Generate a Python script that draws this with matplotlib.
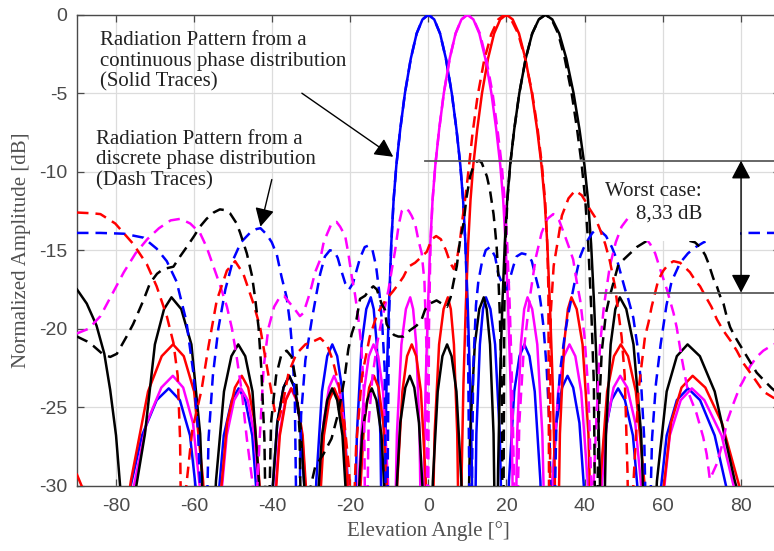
import matplotlib
matplotlib.use("Agg")
import matplotlib.pyplot as plt
from matplotlib.patches import Rectangle, FancyArrowPatch

plt.rcParams["axes.unicode_minus"] = False

# ---------------------------------------------------------------------------
# Radiation patterns: (elevation angle [deg], normalized amplitude [dB])
# Nulls are stored below the plotted range so the lobes dive off the axis.
# ---------------------------------------------------------------------------

# Continuous phase distribution (solid traces), beam steered to 0/10/20/30 deg
blue_solid = [
    (-90, -40),
    (-78.5, -32.5), (-73.35, -26.8), (-69.6, -24.55), (-66.5, -23.8), (-63.65, -24.55), (-61.05, -26.8), (-58.55, -32.5), (-56.4, -40),
    (-54.4, -32.5), (-52.4, -26.8), (-50.35, -24.55), (-48.6, -23.8), (-46.9, -24.55), (-45.1, -26.8), (-43.4, -32.5), (-41.85, -40),
    (-40.3, -31.7), (-38.7, -26.0), (-37.1, -23.75), (-35.65, -23.0), (-34.25, -23.75), (-32.8, -26.0), (-31.35, -31.7), (-30.0, -40),
    (-28.7, -29.7), (-27.25, -24.0), (-25.9, -21.75), (-24.6, -21.0), (-23.35, -21.75), (-22.0, -24.0), (-20.65, -29.7), (-19.45, -40),
    (-18.3, -26.7), (-17.1, -21.0), (-15.9, -18.75), (-14.75, -18.0), (-14.0, -18.75), (-13.2, -21.0), (-12.3, -26.7), (-11.55, -40),
    (-11.15, -29), (-10.7, -23.5), (-10.1, -18.6), (-9.5, -14.6), (-8.9, -11.8), (-8.2, -9.6), (-7.2, -7.3), (-6.0, -5.0),
    (-4.5, -2.8), (-3.0, -1.2), (-1.5, -0.3), (0, 0), (1.5, -0.3), (3.0, -1.2), (4.5, -2.8), (6.0, -5.0), (7.2, -7.3),
    (8.2, -9.6), (8.9, -11.8), (9.5, -14.6), (10.1, -18.6), (10.7, -23.5), (11.15, -29),
    (11.55, -40), (12.3, -26.7), (13.2, -21.0), (14.0, -18.75), (14.75, -18.0), (15.9, -18.75), (17.1, -21.0), (18.3, -26.7),
    (19.45, -40), (20.65, -29.7), (22.0, -24.0), (23.35, -21.75), (24.6, -21.0), (25.9, -21.75), (27.25, -24.0), (28.7, -29.7),
    (30.0, -40), (31.35, -31.7), (32.8, -26.0), (34.25, -23.75), (35.65, -23.0), (37.1, -23.75), (38.7, -26.0), (40.3, -31.7),
    (41.85, -40), (43.4, -32.5), (45.1, -26.8), (46.9, -24.55), (48.6, -23.8), (50.35, -24.55), (52.4, -26.8), (54.4, -32.5),
    (56.4, -40), (58.55, -32.5), (61.05, -26.8), (63.65, -24.55), (66.5, -23.8), (69.6, -24.55), (73.35, -26.8), (78.5, -32.5),
    (90, -40),
]

magenta_solid = [
    (-90, -36), (-83.4, -40),
    (-76.8, -31.7), (-72.15, -26.0), (-68.4, -23.75), (-65.45, -23.0), (-62.8, -23.75), (-60.3, -26.0), (-57.85, -31.7), (-55.7, -40),
    (-53.75, -32.5), (-51.65, -26.8), (-49.75, -24.55), (-48.0, -23.8), (-46.25, -24.55), (-44.55, -26.8), (-42.8, -32.5), (-41.25, -40),
    (-39.75, -32.5), (-38.2, -26.8), (-36.6, -24.55), (-35.2, -23.8), (-33.8, -24.55), (-32.3, -26.8), (-30.9, -32.5), (-29.55, -40),
    (-28.25, -31.7), (-26.85, -26.0), (-25.45, -23.75), (-24.15, -23.0), (-22.9, -23.75), (-21.6, -26.0), (-20.25, -31.7), (-19.05, -40),
    (-17.85, -29.7), (-16.5, -24.0), (-15.25, -21.75), (-14.05, -21.0), (-12.85, -21.75), (-11.6, -24.0), (-10.35, -29.7), (-9.15, -40),
    (-8.05, -26.7), (-6.9, -21.0), (-5.75, -18.75), (-4.65, -18.0), (-3.9, -18.75), (-3.1, -21.0), (-2.25, -26.7), (-1.52, -40),
    (-1.13, -29), (-0.69, -23.5), (-0.10, -18.6), (0.49, -14.6), (1.08, -11.8), (1.78, -9.6), (2.77, -7.3), (3.96, -5.0),
    (5.46, -2.8), (6.97, -1.2), (8.48, -0.3), (10, 0), (11.53, -0.3), (13.06, -1.2), (14.6, -2.8), (16.15, -5.0),
    (17.39, -7.3), (18.43, -9.6), (19.17, -11.8), (19.79, -14.6), (20.43, -18.6), (21.06, -23.5), (21.53, -29),
    (21.95, -40), (22.75, -26.7), (23.7, -21.0), (24.55, -18.75), (25.4, -18.0), (26.6, -18.75), (27.9, -21.0), (29.2, -26.7),
    (30.45, -40), (31.8, -29.7), (33.25, -24.0), (34.75, -21.75), (36.15, -21.0), (37.65, -21.75), (39.15, -24.0), (40.8, -29.7),
    (42.35, -40), (43.9, -31.7), (45.7, -26.0), (47.45, -23.75), (49.15, -23.0), (50.95, -23.75), (53.0, -26.0), (55.15, -31.7),
    (57.2, -40), (59.4, -32.5), (61.85, -26.8), (64.65, -24.55), (67.5, -23.8), (70.7, -24.55), (75.1, -26.8), (80.6, -32.5),
    (90, -38),
]

red_solid = [
    (-90, -29.3), (-88.5, -30.2), (-86.5, -33), (-82.3, -40),
    (-76.2, -29.7), (-71.8, -24.0), (-68.3, -21.75), (-65.4, -21.0), (-62.65, -21.75), (-60.0, -24.0), (-57.7, -29.7), (-55.6, -40),
    (-53.6, -31.7), (-51.55, -26.0), (-49.55, -23.75), (-47.8, -23.0), (-46.15, -23.75), (-44.45, -26.0), (-42.7, -31.7), (-41.15, -40),
    (-39.65, -32.5), (-38.05, -26.8), (-36.5, -24.55), (-35.1, -23.8), (-33.65, -24.55), (-32.2, -26.8), (-30.75, -32.5), (-29.4, -40),
    (-28.1, -32.5), (-26.75, -26.8), (-25.35, -24.55), (-24.1, -23.8), (-22.85, -24.55), (-21.45, -26.8), (-20.2, -32.5), (-18.95, -40),
    (-17.75, -31.7), (-16.45, -26.0), (-15.15, -23.75), (-13.95, -23.0), (-12.75, -23.75), (-11.55, -26.0), (-10.25, -31.7), (-9.1, -40),
    (-7.95, -29.7), (-6.65, -24.0), (-5.45, -21.75), (-4.25, -21.0), (-3.1, -21.75), (-1.9, -24.0), (-0.65, -29.7), (0.5, -40),
    (1.6, -26.7), (2.75, -21.0), (3.9, -18.75), (5.0, -18.0), (5.75, -18.75), (6.55, -21.0), (7.4, -26.7), (8.15, -40),
    (8.55, -29), (8.99, -23.5), (9.59, -18.6), (10.2, -14.6), (10.8, -11.8), (11.5, -9.6), (12.52, -7.3), (13.74, -5.0),
    (15.28, -2.8), (16.84, -1.2), (18.41, -0.3), (20, 0), (21.6, -0.3), (23.22, -1.2), (24.86, -2.8), (26.52, -5.0),
    (27.86, -7.3), (28.99, -9.6), (29.78, -11.8), (30.47, -14.6), (31.16, -18.6), (31.85, -23.5), (32.37, -29),
    (32.83, -40), (33.7, -26.7), (34.75, -21.0), (35.75, -18.75), (36.65, -18.0), (38.0, -18.75), (39.5, -21.0), (41.0, -26.7),
    (42.45, -40), (44.05, -29.7), (45.8, -24.0), (47.55, -21.75), (49.3, -21.0), (51.15, -21.75), (53.15, -24.0), (55.3, -29.7),
    (57.35, -40), (59.55, -31.7), (62.15, -26.0), (64.85, -23.75), (67.7, -23.0), (70.95, -23.75), (75.2, -26.0), (81.5, -31.7),
    (90, -36),
]

black_solid = [
    (-90, -17.5), (-87.5, -18.4), (-85, -19.8), (-83, -21.6), (-81.5, -23.9), (-80, -26.8), (-78.8, -30.5), (-77.2, -40),
    (-74.8, -30), (-72.6, -26.7), (-70.05, -21.0), (-67.7, -18.75), (-65.8, -18.0), (-63.3, -18.75), (-60.7, -21.0), (-58.45, -26.7), (-56.4, -40),
    (-54.4, -29.7), (-52.35, -24.0), (-50.45, -21.75), (-48.7, -21.0), (-46.9, -21.75), (-45.05, -24.0), (-43.4, -29.7), (-41.85, -40),
    (-40.3, -31.7), (-38.7, -26.0), (-37.1, -23.75), (-35.65, -23.0), (-34.25, -23.75), (-32.8, -26.0), (-31.35, -31.7), (-30.0, -40),
    (-28.7, -32.5), (-27.25, -26.8), (-25.9, -24.55), (-24.65, -23.8), (-23.35, -24.55), (-22.0, -26.8), (-20.65, -32.5), (-19.45, -40),
    (-18.25, -32.5), (-17.0, -26.8), (-15.65, -24.55), (-14.5, -23.8), (-13.3, -24.55), (-12.0, -26.8), (-10.8, -32.5), (-9.6, -40),
    (-8.45, -31.7), (-7.2, -26.0), (-5.9, -23.75), (-4.75, -23.0), (-3.6, -23.75), (-2.4, -26.0), (-1.15, -31.7), (0.0, -40),
    (1.15, -29.7), (2.4, -24.0), (3.6, -21.75), (4.8, -21.0), (5.95, -21.75), (7.2, -24.0), (8.45, -29.7), (9.6, -40),
    (10.7, -26.7), (11.9, -21.0), (13.05, -18.75), (14.2, -18.0), (14.95, -18.75), (15.8, -21.0), (16.7, -26.7), (17.45, -40),
    (17.86, -29), (18.32, -23.5), (18.94, -18.6), (19.57, -14.6), (20.2, -11.8), (20.94, -9.6), (22.0, -7.3), (23.3, -5.0),
    (24.93, -2.8), (26.6, -1.2), (28.29, -0.3), (30, 0), (31.75, -0.3), (33.53, -1.2), (35.35, -2.8), (37.2, -5.0),
    (38.71, -7.3), (39.99, -9.6), (40.9, -11.8), (41.69, -14.6), (42.49, -18.6), (43.29, -23.5), (43.91, -29),
    (44.45, -40), (45.5, -26.7), (46.7, -21.0), (47.9, -18.75), (49.05, -18.0), (50.7, -18.75), (52.55, -21.0), (54.5, -26.7),
    (56.4, -40), (58.55, -29.7), (61.05, -24.0), (63.65, -21.75), (66.4, -21.0), (69.55, -21.75), (73.35, -24.0), (78.5, -29.7),
    (90, -40),
]

# Discrete phase distribution (dashed traces)
blue_dash = [
    (-90, -13.9), (-84, -13.9), (-78, -13.95), (-73, -14.2), (-69.6, -14.9), (-67, -15.7), (-64.5, -17.0), (-62, -19.5),
    (-60.2, -22.8), (-59, -26.5), (-58, -33), (-57.3, -38), (-56.3, -27), (-55.2, -23), (-53.8, -20), (-52, -17.5),
    (-50, -15.6), (-48, -14.5), (-45.7, -13.9), (-44, -13.65), (-43, -13.6), (-41.4, -14.0), (-40.1, -14.5), (-38.8, -15.3),
    (-37.6, -16.7), (-36.3, -18.0), (-35.4, -19.7), (-34.8, -21.5), (-34.2, -24.5), (-33.5, -38), (-32.6, -25.5), (-31.5, -22),
    (-29.9, -19.5), (-28.6, -17.7), (-27.7, -16.5), (-26.5, -15.4), (-25.2, -15.0), (-24, -15.1), (-23.2, -15.5), (-22.3, -16.3),
    (-21.3, -17.1), (-20.3, -17.5), (-19.3, -17.1), (-18.4, -16.3), (-17.5, -15.5), (-16.3, -14.8), (-15.3, -14.7), (-14.3, -15.0),
    (-13.4, -16.0), (-12.5, -17.8), (-11.8, -19.8), (-11.2, -22.5), (-10.7, -38), (-10.1, -19.5), (-9.5, -14.6), (-8.9, -11.8),
    (-8.2, -9.6), (-7.2, -7.3), (-6.0, -5.0), (-4.5, -2.8), (-3.0, -1.2), (-1.5, -0.3), (0, 0), (1.5, -0.3), (3.0, -1.2),
    (4.5, -2.8), (6.0, -5.0), (7.2, -7.3), (8.2, -9.6), (8.9, -11.8), (9.5, -14.6), (10.1, -19.5), (10.8, -38),
    (11.5, -22.5), (12.2, -18.5), (12.8, -17.0), (13.7, -15.8),
    (14.7, -15.0), (15.8, -14.8), (17.1, -15.4), (17.9, -16.5), (19.2, -17.3), (20.1, -17.5), (20.9, -16.8), (21.8, -16.0),
    (22.6, -15.4), (23.9, -15.2), (25.6, -15.3), (26.5, -15.7), (27.3, -16.5), (28.2, -17.4), (28.8, -18.4), (29.5, -19.9),
    (30.3, -22.5), (31.0, -26), (31.8, -38), (32.8, -26), (33.7, -22.8), (35, -20.3), (35.9, -19.0), (37.1, -17.5),
    (38, -16.4), (38.9, -15.4), (39.7, -14.9), (41, -14.3), (42, -13.9), (43, -13.7), (44, -13.75), (45.5, -14.1),
    (47, -14.8), (48.3, -15.6), (49.5, -16.7), (50.4, -17.5), (51.2, -18.1), (52.5, -19.3), (53.5, -21), (54.5, -23.5),
    (55.3, -27), (56.2, -38), (57.3, -27), (58.3, -23.5), (59.5, -21), (61, -18.5), (62.3, -17.0), (64.5, -15.8),
    (66.5, -15.2), (68.5, -14.8), (70.5, -14.5), (74, -14.2), (78, -14.0), (81, -13.9), (85, -13.9), (90, -13.9),
]

magenta_dash = [
    (-90, -20.3), (-87, -20.0), (-84, -19.2), (-81, -17.8), (-78, -16.4), (-75, -15.2), (-72, -14.3), (-69, -13.6),
    (-66, -13.1), (-63.5, -13.0), (-61, -13.3), (-58.5, -13.9), (-56.8, -14.8), (-55.1, -16.0), (-53.4, -17.2), (-51.6, -18.6),
    (-50.3, -20.0), (-49.1, -21.8), (-47.8, -24.0), (-46.5, -27.0), (-45.2, -29.5), (-44.2, -32), (-43.2, -27), (-42.2, -22.5),
    (-41.0, -20.0), (-39.5, -18.6), (-38.0, -17.96), (-37.0, -17.9), (-35.4, -18.4), (-34.1, -18.8), (-32.9, -19.2), (-32.0, -19.0),
    (-30.7, -18.0), (-29.9, -17.3), (-29.0, -16.4), (-27.7, -15.6), (-26.9, -14.6), (-26.0, -14.0), (-24.8, -13.3), (-23.5, -13.2),
    (-22.6, -13.5), (-21.3, -14.1), (-20.5, -15.2), (-19.6, -16.7), (-18.8, -17.8), (-18.0, -19.2), (-17.2, -21.0), (-16.5, -24.0),
    (-16.0, -38), (-15.3, -26), (-14.3, -23), (-13.0, -20.8), (-12.0, -19.5), (-11.1, -18.6), (-10.2, -17.5), (-9.4, -16.3),
    (-8.5, -15.0), (-7.6, -13.4), (-6.8, -12.5), (-6.0, -12.3), (-5.0, -12.5), (-4.3, -12.8), (-3.4, -13.3), (-2.6, -14.3),
    (-1.7, -15.2), (-1.0, -17.0), (-0.5, -21), (-0.15, -38), (0.15, -20), (0.55, -14.6), (1.08, -11.8), (1.78, -9.6),
    (2.77, -7.3), (3.96, -5.0), (5.46, -2.8), (6.97, -1.2), (8.48, -0.3), (10, 0), (11.6, -0.3), (13.2, -1.2),
    (14.8, -2.8), (16.45, -5.0), (17.7, -7.3), (18.8, -9.6), (19.55, -11.8), (20.2, -14.6), (20.85, -18.6), (21.45, -23.5),
    (21.9, -29), (22.3, -38), (23.3, -26), (24.4, -21.5),
    (26.0, -18.0), (27.5, -15.5), (29.0, -13.9), (30.5, -13.0), (32.0, -12.7), (33.5, -13.1), (35.0, -14.1), (36.3, -15.0),
    (37.1, -15.6), (38.0, -17.0), (38.9, -18.2), (40.0, -20.5), (41.0, -24.0), (42.0, -32), (43.0, -26), (44.0, -21.0),
    (45.0, -18.5), (46.5, -16.0), (48.0, -14.5), (49.5, -13.5), (51.0, -13.0), (52.5, -13.1), (54.0, -13.6), (55.5, -14.2),
    (56.8, -14.6), (58.1, -15.2), (59.5, -16.3), (61.1, -17.5), (62.0, -18.3), (62.8, -19.0), (63.6, -19.9), (65.0, -22.0),
    (66.5, -24.0), (68.7, -25.4), (70.4, -26.9), (71.3, -28.0), (72.1, -29.6), (73.9, -28.6), (75.6, -27.1), (76.4, -26.0),
    (78.1, -24.8), (79.8, -23.7), (80.7, -23.3), (82.4, -22.4), (84.1, -21.8), (85.8, -21.4), (88.4, -21.0), (90, -20.9),
]

red_dash = [
    (-90, -12.6), (-86, -12.65), (-84, -12.7), (-80.2, -13.3), (-75.6, -14.6), (-72.1, -15.9), (-69.6, -17.3), (-67, -19.2),
    (-65.3, -20.9), (-64.2, -23), (-63.6, -27), (-63.1, -38), (-62.0, -30), (-60.5, -26.5), (-58.1, -23.9), (-56.3, -21.1),
    (-54.2, -18.2), (-51.6, -16.3), (-49.5, -15.7), (-47.4, -16.5), (-44.8, -18.4), (-43.1, -19.9), (-41.8, -21.8), (-40.5, -23.6),
    (-39.3, -25.3), (-38.3, -25.8), (-37.3, -24.8), (-35.8, -22.8), (-33.8, -21.6), (-31.5, -21.0), (-29.4, -20.8), (-27.7, -20.6),
    (-26.0, -21.0), (-24.5, -22.0), (-23.0, -23.5), (-21.5, -26.0), (-20.3, -29.0), (-19.4, -34), (-18.5, -27.5), (-17.0, -23.0),
    (-15.0, -20.5), (-13.0, -19.0), (-11.0, -18.2), (-9.0, -17.6), (-7.5, -17.1), (-6.4, -16.7), (-5.1, -16.05), (-3.4, -15.8),
    (-2.1, -15.5), (-0.4, -15.1), (0.86, -14.3), (2.0, -14.1), (3.2, -14.3), (4.5, -15.0), (5.6, -15.8), (6.5, -16.2),
    (7.3, -15.6), (8.1, -14.4), (8.8, -12.9), (9.5, -11.6), (10.3, -9.9), (11.3, -7.6), (12.6, -5.2), (14.3, -2.9),
    (16.1, -1.25), (17.9, -0.3), (19.5, 0), (21.2, -0.3), (23.0, -1.2), (24.8, -2.8), (26.6, -5.0), (28.0, -7.3),
    (29.1, -9.6), (29.9, -11.8), (30.4, -14.2), (30.75, -17.5), (31.0, -38), (31.35, -19), (32.1, -16), (33.3, -14.2),
    (34.2, -12.8), (35.9, -11.7), (37.6, -11.2),
    (39.3, -11.5), (40.5, -12.0), (41.4, -12.4), (42.7, -12.9), (44, -13.7), (45.3, -14.6), (46.5, -15.7), (47.8, -17.3),
    (48.7, -19), (49.5, -20.5), (50.3, -23), (51, -29), (51.6, -38), (52.5, -30), (53.8, -24), (55.5, -20.5),
    (56.4, -19.6), (57.2, -18.6), (58.1, -17.7), (58.9, -16.9), (60.2, -16.3), (61.5, -15.9), (62.8, -15.7), (64.5, -15.8),
    (67, -16.4), (68.3, -16.9), (69.6, -17.3), (70.9, -17.9), (72.5, -18.6), (73.9, -19.4), (75.5, -20.1), (77.5, -20.8),
    (79, -21.4), (80.7, -22.2), (83.3, -23.1), (85.8, -24.0), (88.4, -24.4), (90, -24.5),
]

black_dash = [
    (-90, -20.5), (-87.5, -20.8), (-85.8, -21.1), (-83.5, -21.6), (-81.5, -21.8), (-79.8, -21.6), (-77.3, -20.5), (-75.6, -19.7),
    (-73, -18.2), (-71.3, -17.1), (-69.5, -16.5), (-67.9, -16.2), (-65.3, -16.05), (-63.6, -15.4), (-61.9, -14.8), (-60, -14.1),
    (-58.5, -13.5), (-56.8, -13.0), (-55, -12.6), (-53.4, -12.4), (-52, -12.45), (-50.8, -12.65), (-49.1, -13.3), (-48.2, -13.9),
    (-46.5, -15.2), (-45.2, -16.6), (-44.4, -18.0), (-43.5, -19.9), (-42.8, -22.5), (-42.0, -27), (-41.3, -38), (-40.3, -26),
    (-39.0, -23), (-37.6, -21.6), (-36.3, -21.4), (-35.0, -21.8), (-33.8, -23.5), (-33.0, -26.5), (-32.3, -38), (-31.0, -31),
    (-29.0, -28.8), (-26.9, -28.0), (-24.8, -27.0), (-23.0, -25.3), (-21.5, -23.2), (-20.5, -21.3), (-19.6, -20.3), (-18.4, -19.4),
    (-17.5, -18.1), (-16.2, -17.9), (-15.0, -17.5), (-14.1, -17.3), (-13.2, -17.5), (-12.0, -18.4), (-11.1, -18.8), (-10.7, -19.7),
    (-9.8, -20.1), (-8.8, -20.4), (-7.7, -20.5), (-6.4, -20.5), (-4.7, -20.1), (-3.0, -19.8), (-1.7, -19.4), (-0.85, -18.8),
    (0.4, -18.4), (2.1, -18.2), (3.4, -18.4), (4.8, -18.6), (5.7, -18.0), (6.4, -17.1), (7.3, -16.0), (8.1, -14.4),
    (9.0, -13.3), (9.8, -11.6), (10.7, -10.3), (11.6, -9.6), (12.4, -9.35), (13.1, -9.3), (13.7, -9.45), (15.0, -10.3),
    (15.8, -11.2), (16.7, -12.7), (17.1, -13.7), (17.5, -14.8), (17.9, -16.5), (18.3, -19), (18.8, -24), (19.15, -38),
    (19.45, -19), (19.75, -14.6), (20.25, -11.8), (20.94, -9.6), (22.0, -7.3), (23.3, -5.0), (24.93, -2.8), (26.6, -1.2),
    (28.29, -0.3), (30, 0), (31.6, -0.3), (33.25, -1.2), (34.95, -2.8), (36.7, -5.0), (38.1, -7.3), (39.3, -9.6),
    (40.2, -11.8), (40.95, -14.6), (41.7, -18.6), (42.4, -23.5), (42.9, -38),
    (43.6, -26), (44.4, -21.5), (45.5, -19.0), (46.5, -17.9), (48.7, -15.9), (50.0, -15.6), (52.1, -15.1), (53.4, -14.8),
    (56, -14.4), (60, -14.2), (64, -14.2), (68.3, -14.5), (69.6, -14.8), (70.9, -15.3), (71.7, -15.8), (73, -16.8),
    (73.9, -17.3), (74.7, -17.9), (75.6, -18.4), (76.4, -19.2), (77.3, -19.9), (78.1, -20.3), (79, -20.7), (80.7, -21.4),
    (82.4, -22.1), (84.1, -22.8), (86, -23.3), (88, -23.8), (90, -24.2),
]

# Worst-case difference markers
upper_level_db = -9.30
lower_level_db = -17.70
worst_case_text = "Worst case:\n8,33 dB"

x_ticks = [-80, -60, -40, -20, 0, 20, 40, 60, 80]
y_ticks = [0, -5, -10, -15, -20, -25, -30]

# ---------------------------------------------------------------------------
W, H = 774, 551
fig = plt.figure(figsize=(W / 100, H / 100), dpi=100)
ax = fig.add_axes([77 / W, (H - 485.7) / H, (779.7 - 77) / W, (485.7 - 14.7) / H])

solid_kw = dict(lw=1.8, solid_joinstyle="round", zorder=3)
dash_kw = dict(lw=1.8, linestyle=(0, (4.6, 2.8)), zorder=4)

def xy(points):
    return [p[0] for p in points], [p[1] for p in points]

for pts, col in [(blue_solid, "#0000ff"), (magenta_solid, "#ff00ff"),
                 (red_solid, "#ff0000"), (black_solid, "#000000")]:
    ax.plot(*xy(pts), color=col, **solid_kw)
for pts, col in [(blue_dash, "#0000ff"), (magenta_dash, "#ff00ff"),
                 (red_dash, "#ff0000"), (black_dash, "#000000")]:
    ax.plot(*xy(pts), color=col, **dash_kw)

ax.set_xlim(-90, 90)
ax.set_ylim(-30, 0)
ax.set_xticks(x_ticks)
ax.set_yticks(y_ticks)
ax.grid(True, color="#dcdcdc", lw=0.9, zorder=0)
ax.set_axisbelow(True)

axis_grey = "#4a4a4a"
for s in ax.spines.values():
    s.set_color(axis_grey)
    s.set_linewidth(1.0)
ax.tick_params(direction="in", length=5, width=0.9, colors=axis_grey,
               top=True, right=True, labelsize=14)
ax.tick_params(axis="x", pad=9)
ax.tick_params(axis="y", pad=7)
for lab in ax.get_xticklabels() + ax.get_yticklabels():
    lab.set_fontfamily("Liberation Sans")

serif = "Liberation Serif"
ax.set_xlabel("Elevation Angle [°]", fontfamily=serif, fontsize=15, color="#505050", labelpad=4)
ax.set_ylabel("Normalized Amplitude [dB]", fontfamily=serif, fontsize=15, color="#505050", labelpad=6)

# Reference levels and the worst-case span
ax.plot([-0.85, 90], [upper_level_db, upper_level_db], color="#5a5a5a", lw=1.3, zorder=6)
ax.plot([43.6, 90], [lower_level_db, lower_level_db], color="#5a5a5a", lw=1.3, zorder=6)
ax.add_patch(Rectangle((52.3, -14.42), 27.5, 2.25, facecolor="white", edgecolor="none", zorder=7))
ax.text(70.1, -11.95, worst_case_text, fontfamily=serif, fontsize=15, color="#222222",
        ha="right", va="center", multialignment="right", linespacing=1.25, zorder=8)
ax.add_patch(FancyArrowPatch((80.1, upper_level_db), (80.1, lower_level_db),
                             arrowstyle="<|-|>,head_length=8,head_width=4.2",
                             mutation_scale=1.4, color="black", lw=1.0, zorder=8,
                             shrinkA=0, shrinkB=0))

# Explanatory labels with pointers
ax.text(-84.2, -1.05, "Radiation Pattern from a\ncontinuous phase distribution\n(Solid Traces)",
        fontfamily=serif, fontsize=15, color="#222222", ha="left", va="top", linespacing=1.1, zorder=8)
ax.text(-85.1, -7.35, "Radiation Pattern from a\ndiscrete phase distribution\n(Dash Traces)",
        fontfamily=serif, fontsize=15, color="#222222", ha="left", va="top", linespacing=1.1, zorder=8)
ax.add_patch(FancyArrowPatch((-32.4, -5.0), (-9.0, -9.05),
                             arrowstyle="-|>,head_length=8,head_width=4.2",
                             mutation_scale=1.4, color="black", lw=1.0, zorder=8,
                             shrinkA=0, shrinkB=0))
ax.add_patch(FancyArrowPatch((-40.1, -10.5), (-43.0, -13.5),
                             arrowstyle="-|>,head_length=8,head_width=4.2",
                             mutation_scale=1.4, color="black", lw=1.0, zorder=8,
                             shrinkA=0, shrinkB=0))

fig.savefig("out.png", dpi=100)
